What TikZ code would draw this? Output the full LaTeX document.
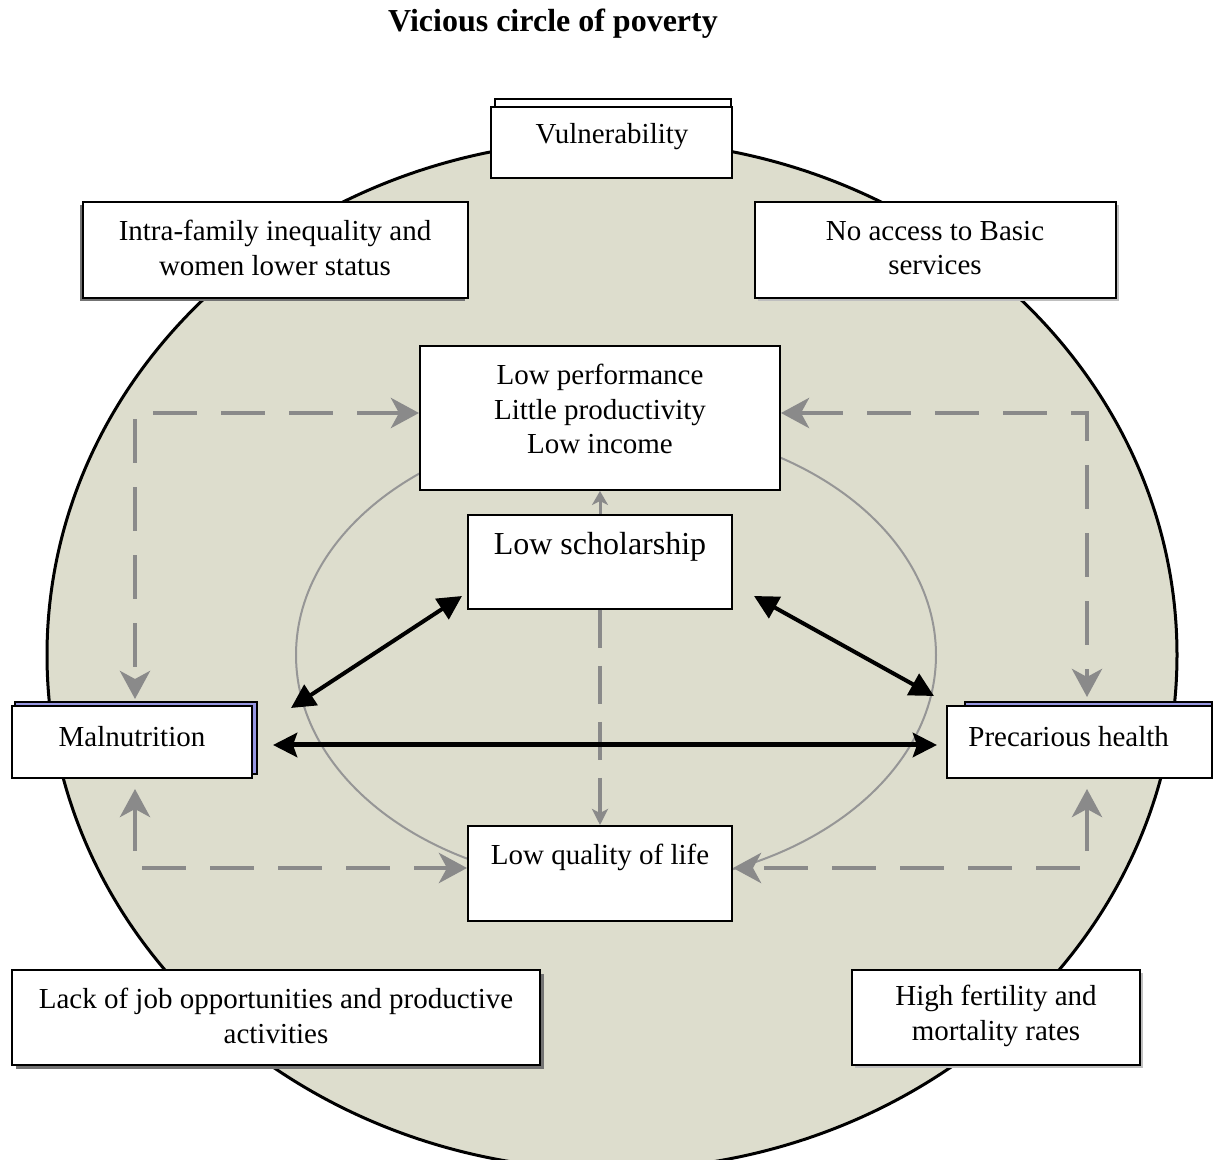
\documentclass[tikz,border=0pt]{standalone}
\usepackage{fontspec}
\setmainfont{Liberation Serif}
\usetikzlibrary{arrows.meta,fit,calc}
\definecolor{circfill}{RGB}{221,221,205}
\definecolor{dashgray}{RGB}{138,138,138}
\definecolor{ellgray}{RGB}{150,150,150}
\definecolor{shblue}{RGB}{150,150,225}
\begin{document}
\begin{tikzpicture}[x=0.5pt,y=-0.5pt,
  box/.style={draw=black,line width=1pt,fill=white,inner sep=0pt},
  shadowgray/.style={fill=black!55,draw=none,inner sep=0pt},
  shadowlight/.style={fill=black!25,draw=none,inner sep=0pt},
  shadowblue/.style={fill=shblue,draw=black,line width=0.8pt,inner sep=0pt},
  shadowwhite/.style={fill=white,draw=black,line width=0.8pt,inner sep=0pt},
  lbl/.style={align=center,font=\fontsize{14.5}{17.25}\selectfont,inner sep=0pt},
  biglbl/.style={align=center,font=\fontsize{16}{19}\selectfont,inner sep=0pt},
  dasharrow/.style={draw=dashgray,line width=2.4pt,dash pattern=on 22pt off 12pt,
     {Stealth[length=14pt,width=15pt,inset=4pt]}-{Stealth[length=14pt,width=15pt,inset=4pt]}},
  thindash/.style={draw=dashgray,line width=1.7pt,dash pattern=on 19pt off 9pt,
     -{Stealth[length=8pt,width=8pt,inset=2pt]}},
  thinarrow/.style={draw=dashgray,line width=1.5pt,-{Stealth[length=7pt,width=8pt,inset=2pt]}},
  blackarrow/.style={draw=black,line width=2pt,
     {Triangle[length=12pt,width=12pt]}-{Triangle[length=12pt,width=12pt]}},
  hblackarrow/.style={draw=black,line width=2.5pt,
     {Stealth[length=12pt,width=12pt,inset=2pt]}-{Stealth[length=12pt,width=12pt,inset=2pt]}}
]
\useasboundingbox (0,0) rectangle (1217,1160);

% big circle
\begin{scope}
  \clip (0,0) rectangle (1217,1160);
  \draw[fill=circfill,line width=1.5pt] (612,655) ellipse[x radius=565,y radius=515];
\end{scope}

% inner ellipse
\draw[ellgray,line width=1pt] (616,655) ellipse[x radius=320,y radius=230];

% title
\node[font=\fontsize{16}{19}\selectfont\bfseries,inner sep=0pt] (title) at (553,24) {Vicious circle of poverty};

% shadows
\node[shadowwhite,fit={(495,99)(731,170)}] (vulsh) {};
\node[shadowgray,fit={(80,205)(465,301)}] (intrash) {};
\node[shadowlight,fit={(758,205)(1119,301)}] (accsh) {};
\node[shadowblue,fit={(15,702)(257,774)}] (malsh) {};
\node[shadowblue,fit={(965,702)(1212,774)}] (precsh) {};
\node[shadowgray,fit={(16,974)(544,1069)}] (jobsh) {};
\node[shadowlight,fit={(855,973)(1143,1068)}] (fertsh) {};

% boxes
\node[box,fit={(491,107)(732,178)}] (vul) {};
\node[box,fit={(83,202)(468,298)}] (intra) {};
\node[box,fit={(755,202)(1116,298)}] (acc) {};
\node[box,fit={(420,346)(780,490)}] (lowperf) {};
\node[box,fit={(468,515)(732,609)}] (lowsch) {};
\node[box,fit={(12,706)(252,778)}] (mal) {};
\node[box,fit={(947,706)(1212,778)}] (prec) {};
\node[box,fit={(468,826)(732,921)}] (lowq) {};
\node[box,fit={(12,970)(540,1065)}] (job) {};
\node[box,fit={(852,970)(1140,1065)}] (fert) {};

% texts
\node[lbl] (vult) at (612,137) {Vulnerability};
\node[lbl] (intrat) at (275,248) {Intra-family inequality and\\women lower status};
\node[lbl] (acct) at (935,248) {No access to Basic\\services};
\node[lbl] (lowperft) at (600,409) {Low performance\\Little productivity\\Low income};
\node[biglbl] (lowscht) at (600,547) {Low scholarship};
\node[lbl] (malt) at (132,737) {Malnutrition};
\node[lbl,anchor=west] (prect) at (968,737) {Precarious health};
\node[lbl] (lowqt) at (600,857) {Low quality of life};
\node[lbl] (jobt) at (276,1016) {Lack of job opportunities and productive\\activities};
\node[lbl] (fertt) at (996,1016) {High fertility and\\mortality rates};

% corner coordinates of the dashed loops
\coordinate (tl) at (135,413);
\coordinate (tr) at (1087,413);
\coordinate (bl) at (135,868);
\coordinate (br) at (1087,868);

% dashed gray arrows
\draw[dasharrow] (lowperf.west |- tl) -- (tl) -- ([yshift=3pt]mal.north -| tl);
\draw[dasharrow] (lowperf.east |- tr) -- (tr) -- ([yshift=4pt]prec.north -| tr);
\draw[dasharrow] ([yshift=-5pt]mal.south -| bl) -- (bl) -- (lowq.west |- bl);
\draw[dasharrow] ([yshift=-5pt]prec.south -| br) -- (br) -- (lowq.east |- br);

% central vertical arrows
\draw[thindash] (lowsch.south) -- (lowq.north);
\draw[thinarrow] (lowsch.north) -- (lowperf.south);

% black double arrows
\draw[blackarrow] ([shift={(-5,-14)}]lowsch.south west) -- ([shift={(38,-71)}]mal.south east);
\draw[blackarrow] ([shift={(21,-14)}]lowsch.south east) -- ([shift={(-12,-9)}]prec.north west);
\draw[hblackarrow] ([shift={(20,3)}]mal.east) -- ([shift={(-9,3)}]prec.west);
\end{tikzpicture}
\end{document}
